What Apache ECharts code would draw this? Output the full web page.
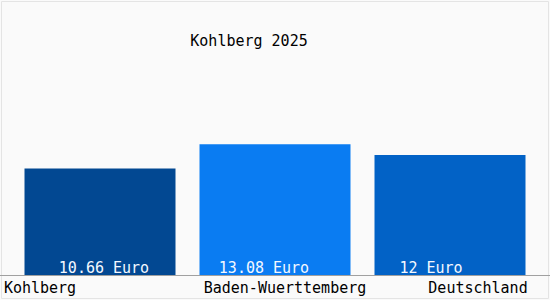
<!DOCTYPE html>
<html>
	<head>
		<meta charset="utf-8">
		<title>Kohlberg 2025</title>
		<style type="text/css">
			html, body {
				margin: 0;
				padding: 0;
				background: #fafafa;
			}

			#chart {
				width: 550px;
				height: 300px;
			}
		</style>
	</head>
	<body>
		<div id="chart"></div>

		<script src="https://cdn.jsdelivr.net/npm/echarts@6/dist/echarts.min.js"></script>
		<script>
			// 数据
			var categories = ['Kohlberg', 'Baden-Wuerttemberg', 'Deutschland'];
			var values = [10.66, 13.08, 12];
			var valueLabels = ['10.66 Euro', '13.08 Euro', '12 Euro'];
			var barColors = ['#024892', '#0a7cf2', '#0262c6'];

			// 标签偏移（像素）
			var labelShift = [4, -11, -19];
			var catPadding = [[0, 120, 0, 0], [0, 0, 0, 20], [0, 0, 0, 56]];

			var font = 'DejaVu Sans Mono';
			var myChart = echarts.init(document.getElementById('chart'), null, { renderer: 'svg' });

			var rich = {};
			categories.forEach(function (c, i) {
				rich['c' + i] = {
					padding: catPadding[i],
					fontFamily: font,
					fontSize: 15,
					color: '#000'
				};
			});

			var option = {
				backgroundColor: '#fafafa',
				animation: false,
				title: {
					text: 'Kohlberg 2025',
					left: 244,
					top: 28,
					textAlign: 'center',
					textStyle: {
						fontFamily: font,
						fontSize: 15,
						fontWeight: 'normal',
						color: '#000'
					}
				},
				graphic: [{
					type: 'rect',
					shape: { x: 1.5, y: 1.5, width: 547, height: 297 },
					style: { fill: null, stroke: '#e4e4e4', lineWidth: 1 },
					silent: true
				}],
				grid: [{
					left: 12.5,
					right: 12.5,
					top: 75,
					bottom: 25
				}, {
					left: 0,
					right: 0,
					top: 75,
					bottom: 25
				}],
				xAxis: [{
					type: 'category',
					gridIndex: 0,
					data: categories,
					axisLine: { show: false },
					axisTick: { show: false },
					axisLabel: {
						margin: 5,
						interval: 0,
						formatter: function (v) {
							return '{c' + categories.indexOf(v) + '|' + v + '}';
						},
						rich: rich
					}
				}, {
					type: 'value',
					gridIndex: 1,
					min: 0,
					max: 1,
					axisLine: { show: true, lineStyle: { color: '#a0a0a0', width: 1 } },
					axisTick: { show: false },
					axisLabel: { show: false },
					splitLine: { show: false }
				}],
				yAxis: [{
					type: 'value',
					gridIndex: 0,
					min: 0,
					max: 20,
					show: false
				}, {
					type: 'value',
					gridIndex: 1,
					min: 0,
					max: 20,
					show: false
				}],
				series: [{
					type: 'bar',
					xAxisIndex: 0,
					yAxisIndex: 0,
					barWidth: 151,
					data: values.map(function (v, i) {
						return {
							value: v,
							itemStyle: { color: barColors[i] },
							label: {
								show: true,
								position: 'insideBottom',
								distance: 0,
								offset: [labelShift[i], 0],
								formatter: valueLabels[i],
								fontFamily: font,
								fontSize: 15,
								color: '#f4f8ff'
							}
						};
					})
				}]
			};

			myChart.setOption(option);
		</script>
	</body>
</html>
